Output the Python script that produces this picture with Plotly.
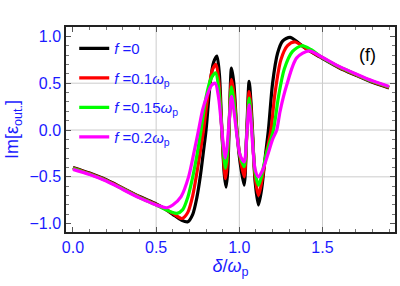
import plotly.graph_objects as go

# ---- data ----
x_f0 = [0.0, 0.1, 0.2, 0.3, 0.4, 0.5, 0.55, 0.6, 0.65, 0.69, 0.72, 0.745, 0.765, 0.785, 0.80, 0.825, 0.845, 0.865,
        0.88, 0.895, 0.91, 0.92, 0.93, 0.94, 0.953, 0.967, 0.985, 1.005, 1.029, 1.045, 1.059, 1.07, 1.079, 1.095,
        1.115, 1.135, 1.155, 1.175, 1.2, 1.23, 1.26, 1.305, 1.35, 1.4, 1.485, 1.6, 1.7, 1.8, 1.9]
y_f0 = [-0.40, -0.46, -0.53, -0.62, -0.71, -0.79, -0.84, -0.90, -0.96, -0.98, -0.90, -0.72, -0.50, -0.22, 0.0, 0.50, 0.72, 0.79,
        0.60, 0.0, -0.48, -0.61, -0.45, 0.10, 0.66, 0.50, 0.0, -0.35, -0.59, 0.0, 0.52, 0.30, 0.0, -0.55,
        -0.80, -0.62, -0.30, 0.0, 0.50, 0.82, 0.95, 0.99, 0.94, 0.87, 0.78, 0.665, 0.585, 0.51, 0.45]

x_f01 = [0.0, 0.1, 0.2, 0.3, 0.4, 0.5, 0.55, 0.6, 0.655, 0.69, 0.72, 0.75, 0.785, 0.815, 0.84, 0.86,
         0.877, 0.895, 0.907, 0.917, 0.928, 0.94, 0.953, 0.967, 0.985, 1.005, 1.029, 1.045, 1.059, 1.07, 1.079, 1.095,
         1.115, 1.135, 1.16, 1.19, 1.215, 1.25, 1.29, 1.335, 1.4, 1.485, 1.6, 1.7, 1.8, 1.9]
y_f01 = [-0.405, -0.465, -0.535, -0.625, -0.715, -0.795, -0.84, -0.89, -0.945, -0.88, -0.70, -0.40, 0.0, 0.42, 0.65, 0.70,
         0.52, 0.0, -0.35, -0.52, -0.35, 0.10, 0.54, 0.40, 0.0, -0.30, -0.50, -0.05, 0.41, 0.22, -0.05, -0.50,
         -0.70, -0.55, -0.27, 0.0, 0.40, 0.75, 0.90, 0.94, 0.87, 0.785, 0.67, 0.59, 0.515, 0.455]

x_f015 = [0.0, 0.1, 0.2, 0.3, 0.4, 0.5, 0.55, 0.59, 0.625, 0.66, 0.69, 0.72, 0.745, 0.77, 0.80, 0.83, 0.857,
          0.876, 0.895, 0.906, 0.916, 0.927, 0.94, 0.953, 0.968, 0.985, 1.005, 1.029, 1.045, 1.059, 1.07, 1.08, 1.095,
          1.115, 1.135, 1.16, 1.205, 1.235, 1.27, 1.32, 1.375, 1.43, 1.485, 1.6, 1.7, 1.8, 1.9]
y_f015 = [-0.41, -0.47, -0.54, -0.63, -0.72, -0.80, -0.845, -0.875, -0.89, -0.85, -0.72, -0.50, -0.27, 0.0, 0.35, 0.55, 0.61,
          0.45, 0.0, -0.27, -0.41, -0.28, 0.10, 0.46, 0.30, -0.02, -0.28, -0.39, -0.05, 0.34, 0.15, -0.10, -0.45,
          -0.59, -0.48, -0.27, 0.0, 0.35, 0.65, 0.84, 0.90, 0.86, 0.79, 0.675, 0.595, 0.52, 0.46]

x_f02 = [0.0, 0.1, 0.2, 0.3, 0.4, 0.5, 0.565, 0.6, 0.65, 0.695, 0.725, 0.755, 0.78, 0.805, 0.83, 0.855,
         0.875, 0.895, 0.905, 0.915, 0.926, 0.94, 0.953, 0.968, 0.985, 1.005, 1.029, 1.045, 1.059, 1.07, 1.08, 1.095,
         1.115, 1.14, 1.17, 1.2, 1.225, 1.245, 1.285, 1.345, 1.42, 1.485, 1.6, 1.7, 1.8, 1.9]
y_f02 = [-0.42, -0.475, -0.545, -0.635, -0.725, -0.80, -0.83, -0.80, -0.71, -0.50, -0.26, 0.0, 0.22, 0.36, 0.47, 0.50,
         0.35, 0.0, -0.18, -0.30, -0.18, 0.12, 0.36, 0.20, -0.05, -0.27, -0.34, -0.05, 0.27, 0.10, -0.15, -0.42,
         -0.50, -0.43, -0.27, -0.10, 0.0, 0.20, 0.48, 0.77, 0.845, 0.79, 0.68, 0.60, 0.525, 0.465]

names = ["<i>f</i> =0<sub> </sub>", "<i>f</i> =0.1<i>ω</i><sub>p</sub>",
         "<i>f</i> =0.15<i>ω</i><sub>p</sub>", "<i>f</i> =0.2<i>ω</i><sub>p</sub>"]
colors = ["#000000", "#FF0000", "#00FF00", "#FF00FF"]
xs = [x_f0, x_f01, x_f015, x_f02]
ys = [y_f0, y_f01, y_f015, y_f02]

x_ticks = [0.0, 0.5, 1.0, 1.5]
y_ticks = [-1.0, -0.5, 0.0, 0.5, 1.0]
x_grid = [0.5, 1.0, 1.5]
y_grid = [-0.5, 0.0, 0.5]

BLUE = "#1a1aff"
FONT = "Liberation Sans"

fig = go.Figure()
for i in range(4):
    fig.add_trace(go.Scatter(x=xs[i], y=ys[i], mode="lines", name=names[i],
                             legendgroup=f"g{i}",
                             line=dict(color=colors[i], width=3.2, shape="spline", smoothing=0.8)))

shapes = []
for gx in x_grid:
    shapes.append(dict(type="line", xref="x", yref="paper", x0=gx, x1=gx, y0=0, y1=1,
                       line=dict(color="#cccccc", width=1), layer="below"))
for gy in y_grid:
    shapes.append(dict(type="line", xref="paper", yref="y", x0=0, x1=1, y0=gy, y1=gy,
                       line=dict(color="#cccccc", width=1), layer="below"))

axis_common = dict(showline=True, linecolor="#222222", linewidth=1.5, mirror="allticks",
                   ticks="inside", ticklen=5, tickcolor="#555555", showgrid=False, zeroline=False,
                   automargin=False,
                   tickfont=dict(family=FONT, size=16, color=BLUE), tickformat=".1f")

fig.update_layout(
    width=400, height=286,
    margin=dict(l=66, r=5, t=27, b=54),
    paper_bgcolor="white", plot_bgcolor="white",
    shapes=shapes,
    showlegend=True,
    legend=dict(x=0.025, y=0.975, xanchor="left", yanchor="top", bgcolor="rgba(0,0,0,0)",
                font=dict(family=FONT, size=15, color=BLUE), tracegroupgap=7,
                itemwidth=30),
    xaxis=dict(range=[-0.042, 1.936], tickvals=x_ticks,
               minor=dict(dtick=0.1, ticks="inside", ticklen=3, tickcolor="#777777"),
               title=dict(text="<i>δ</i>/<i>ω</i><sub>p</sub>", font=dict(family=FONT, size=18, color=BLUE),
                          standoff=4),
               **axis_common),
    yaxis=dict(range=[-1.089, 1.10], tickvals=y_ticks,
               minor=dict(dtick=0.1, ticks="inside", ticklen=3, tickcolor="#777777"),
               title=dict(text="Im[ε<sub>out.</sub>]", font=dict(family=FONT, size=18, color=BLUE),
                          standoff=6),
               **axis_common),
    annotations=[dict(text="(f)", xref="paper", yref="paper", x=0.915, y=0.863,
                      xanchor="center", yanchor="middle", showarrow=False,
                      font=dict(family=FONT, size=18, color="black"))],
)

fig.write_html("out.html", config={"displayModeBar": False},
               post_script="document.body.style.margin='0';")
